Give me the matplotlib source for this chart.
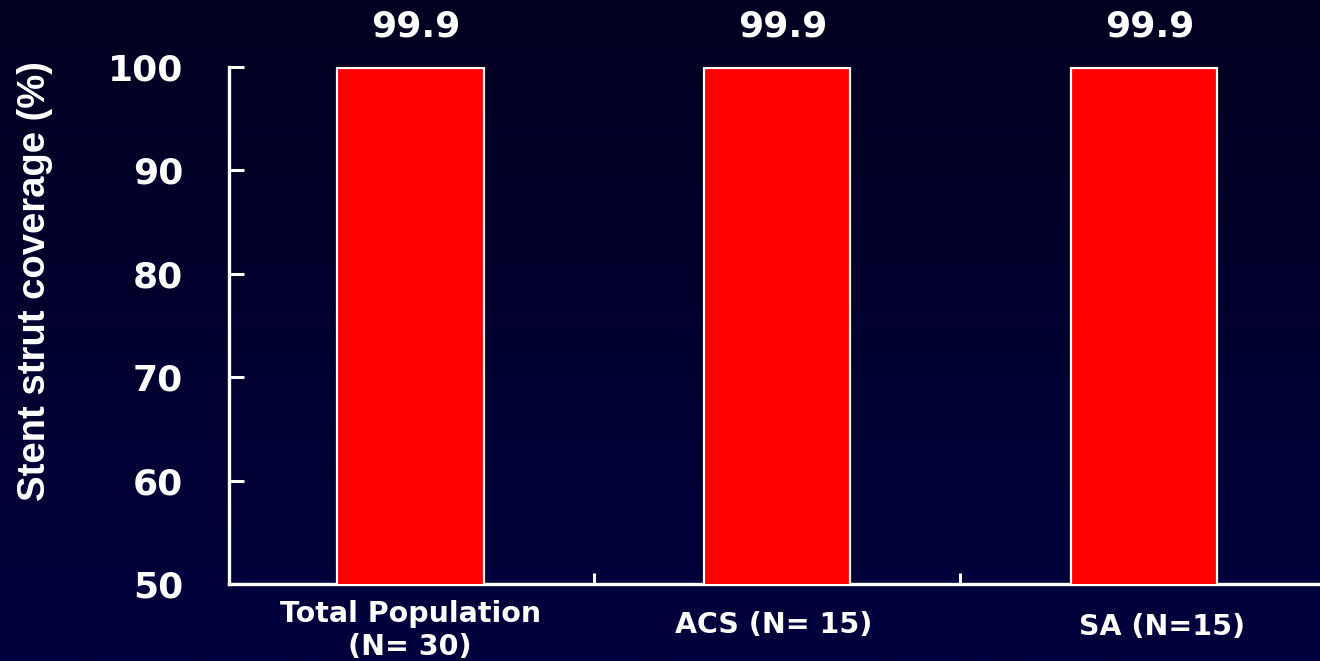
import numpy as np
import matplotlib
matplotlib.use("Agg")
import matplotlib.pyplot as plt

# Data
categories = ["Total Population\n(N= 30)", "ACS (N= 15)", "SA (N=15)"]
coverage = [99.9, 99.9, 99.9]
value_labels = ["99.9", "99.9", "99.9"]
y_ticks = [50, 60, 70, 80, 90, 100]
y_label = "Stent strut coverage (%)"

fig = plt.figure(figsize=(13.2, 6.61), dpi=100)

# Dark navy backdrop with a slight vertical gradient
bg = fig.add_axes([0, 0, 1, 1], zorder=-10)
grad = np.linspace(0, 1, 256).reshape(-1, 1)
top = np.array([0x02, 0x00, 0x20]) / 255
bottom = np.array([0x00, 0x00, 0x3e]) / 255
img = top + (bottom - top) * grad[..., None]
bg.imshow(img, aspect="auto", extent=[0, 1, 0, 1], origin="upper")
bg.set_axis_off()

ax = fig.add_axes([0.1735, 0.1165, 0.8265, 0.782])
ax.set_facecolor("none")

x = np.arange(len(categories))
bars = ax.bar(x, coverage, width=0.40, bottom=0, color="#ff0000",
              edgecolor="white", linewidth=1.6, zorder=3)

ax.set_ylim(50, 100)
ax.set_xlim(-0.494, 2.48)

# Spines
for side in ("top", "right"):
    ax.spines[side].set_visible(False)
for side in ("left", "bottom"):
    ax.spines[side].set_color("white")
    ax.spines[side].set_linewidth(2.4)

# Y ticks
ax.set_yticks(y_ticks)
ax.set_yticklabels([str(v) for v in y_ticks])
ax.tick_params(axis="y", direction="in", length=11, width=2.2, color="white",
               labelcolor="white", labelsize=26, pad=33)
for lab in ax.get_yticklabels():
    lab.set_fontfamily("DejaVu Sans")
    lab.set_fontweight("bold")

# X ticks: small inward marks between groups
ax.set_xticks([0.5, 1.5])
ax.set_xticklabels(["", ""])
ax.tick_params(axis="x", direction="in", length=8, width=2.2, color="white")

# Category labels below the axis
label_tops = [-0.030, -0.052, -0.056]
label_dx = [0.0, -0.01, 0.05]
for xi, name, yt, dx in zip(x, categories, label_tops, label_dx):
    ax.text(xi + dx, yt, name, transform=ax.get_xaxis_transform(), ha="center",
            va="top", color="white", fontsize=20.5, fontweight="bold",
            family="DejaVu Sans", linespacing=1.25, clip_on=False)

# Value labels above bars
for b, txt in zip(bars, value_labels):
    ax.annotate(txt, xy=(b.get_x() + b.get_width() / 2, b.get_height()),
                xytext=(4, 30), textcoords="offset points", ha="center",
                va="center", color="white", fontsize=26, fontweight="bold",
                family="DejaVu Sans", annotation_clip=False)

fig.text(0.0265, 0.575, y_label, rotation=90, ha="center", va="center",
         color="white", fontsize=27.5, fontweight="bold",
         family="Liberation Sans")

fig.savefig("out.png", dpi=100, facecolor=fig.get_facecolor())
